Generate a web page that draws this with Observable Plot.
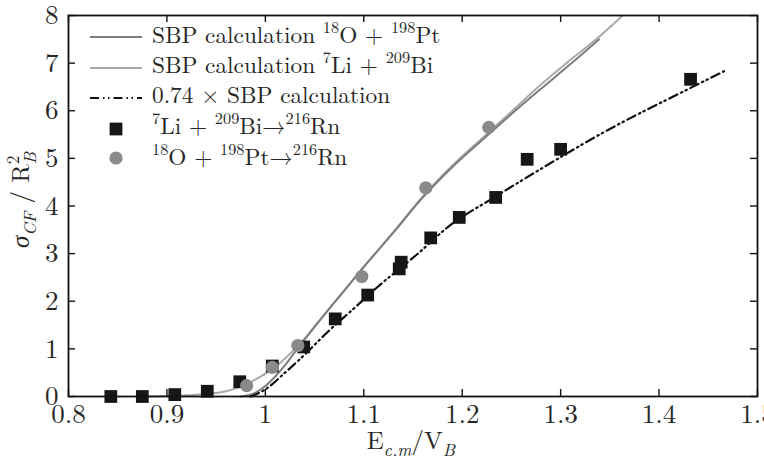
<!DOCTYPE html>
<html><head><meta charset="utf-8">
<script src="https://cdn.jsdelivr.net/npm/d3@7"></script>
<script src="https://cdn.jsdelivr.net/npm/@observablehq/plot@0.6"></script>
<style>body{margin:0;background:#fff} svg{display:block}</style>
</head><body><div id="chart"></div>
<script>
// Ticks
const xTicks = [0.8, 0.9, 1.0, 1.1, 1.2, 1.3, 1.4, 1.5];
const yTicks = [0, 1, 2, 3, 4, 5, 6, 7, 8];

// Data points: 7Li + 209Bi -> 216Rn (squares)
const liDataX = [0.843, 0.875, 0.908, 0.941, 0.974, 1.007, 1.039, 1.071, 1.104, 1.136, 1.138, 1.168, 1.197, 1.234, 1.266, 1.300, 1.432];
const liDataY = [0.0, 0.0, 0.04, 0.11, 0.31, 0.64, 1.04, 1.63, 2.13, 2.68, 2.82, 3.33, 3.76, 4.18, 4.98, 5.19, 6.66];

// Data points: 18O + 198Pt -> 216Rn (circles)
const oDataX = [0.981, 1.007, 1.033, 1.098, 1.163, 1.227];
const oDataY = [0.23, 0.61, 1.07, 2.52, 4.38, 5.65];

// SBP calculation 7Li + 209Bi (light grey)
const liCurveX = [0.88, 0.90, 0.92, 0.94, 0.96, 0.97, 0.98, 0.99, 1.00, 1.01, 1.02, 1.03, 1.04, 1.05, 1.06, 1.08, 1.10, 1.13, 1.16, 1.19, 1.22, 1.25, 1.28, 1.31, 1.34, 1.363];
const liCurveY = [0.0, 0.01, 0.025, 0.05, 0.11, 0.17, 0.25, 0.36, 0.48, 0.62, 0.8, 1.0, 1.22, 1.47, 1.72, 2.22, 2.72, 3.45, 4.2, 4.85, 5.42, 5.98, 6.55, 7.07, 7.57, 8.0];

// SBP calculation 18O + 198Pt (dark grey)
const oCurveX = [0.975, 0.99, 1.00, 1.01, 1.02, 1.03, 1.04, 1.05, 1.06, 1.08, 1.10, 1.13, 1.16, 1.19, 1.22, 1.25, 1.28, 1.31, 1.339];
const oCurveY = [0.0, 0.08, 0.22, 0.42, 0.66, 0.93, 1.2, 1.46, 1.72, 2.22, 2.72, 3.44, 4.18, 4.82, 5.38, 5.93, 6.46, 6.98, 7.5];

// 0.74 x SBP calculation (dash-dot)
const scaledX = [0.985, 1.0, 1.02, 1.04, 1.063, 1.09, 1.114, 1.155, 1.185, 1.234, 1.28, 1.32, 1.344, 1.374, 1.40, 1.432, 1.466];
const scaledY = [0.0, 0.15, 0.5, 0.88, 1.35, 1.85, 2.3, 3.0, 3.55, 4.2, 4.78, 5.27, 5.55, 5.88, 6.15, 6.48, 6.83];

const zip = (xs, ys) => xs.map((x, i) => ({x, y: ys[i]}));
const liData = zip(liDataX, liDataY);
const oData = zip(oDataX, oDataY);
const liCurve = zip(liCurveX, liCurveY);
const oCurve = zip(oCurveX, oCurveY);
const scaled = zip(scaledX, scaledY);

const W = 764, H = 462, mL = 68, mR = 7, mT = 15, mB = 66;
const fw = W - mL - mR, fh = H - mT - mB, tl = 7;
const FONT = "'Latin Modern Roman', 'Liberation Serif', serif";
const INK = "#262626";
const LIGHT = "#a9a9a9", DARK = "#7c7c7c", DOTC = "#8a8a8a", SQC = "#161616";
const DASH = "9,4,1.5,3.5,1.5,4";

const plot = Plot.plot({
  width: W, height: H,
  marginLeft: mL, marginRight: mR, marginTop: mT, marginBottom: mB,
  style: {fontFamily: FONT, fontSize: "27px", color: INK, background: "#fff", overflow: "visible"},
  x: {domain: [0.8, 1.5], label: null},
  y: {domain: [0, 8], label: null},
  marks: [
    Plot.line(liCurve, {x: "x", y: "y", stroke: LIGHT, strokeWidth: 2, curve: "monotone-x"}),
    Plot.line(oCurve, {x: "x", y: "y", stroke: DARK, strokeWidth: 2, curve: "monotone-x"}),
    Plot.line(scaled, {x: "x", y: "y", stroke: "#111", strokeWidth: 2.2, strokeDasharray: DASH, curve: "monotone-x"}),
    Plot.dot(liData, {x: "x", y: "y", symbol: "square", r: 7.2, fill: SQC, stroke: "none"}),
    Plot.dot(oData, {x: "x", y: "y", r: 6.6, fill: DOTC, stroke: "none"}),
    Plot.tickX(xTicks, {x: d => d, insetTop: fh - tl, stroke: "#111", strokeWidth: 1.4}),
    Plot.tickX(xTicks, {x: d => d, insetBottom: fh - tl, stroke: "#111", strokeWidth: 1.4}),
    Plot.tickY(yTicks, {y: d => d, insetRight: fw - tl, stroke: "#111", strokeWidth: 1.4}),
    Plot.tickY(yTicks, {y: d => d, insetLeft: fw - tl, stroke: "#111", strokeWidth: 1.4}),
    Plot.frame({stroke: "#111", strokeWidth: 1.8}),
    Plot.axisX(xTicks, {tickSize: 0, tickPadding: 7, tickFormat: d => String(+d.toFixed(1)), fill: INK}),
    Plot.axisY(yTicks, {tickSize: 0, tickPadding: 10, tickFormat: d => String(d), fill: INK})
  ]
});
document.getElementById("chart").appendChild(plot);

const svg = d3.select(plot);

// parts: string or [text, kind, options]; kind: "sup" | "sub" | null
function rich(textSel, parts, size) {
  let shift = 0;
  parts.forEach(p => {
    const [s, k, o] = Array.isArray(p) ? p : [p, null, {}];
    const opt = o || {};
    const target = k === "sup" ? -0.42 * size : k === "sub" ? 0.28 * size : 0;
    const t = textSel.append("tspan").attr("dy", target - shift).text(s);
    if (k) t.attr("font-size", size * 0.7);
    if (opt.italic) t.attr("font-style", "italic");
    if (opt.dx) t.attr("dx", opt.dx);
    shift = target;
  });
}

// Legend
const LS = 23.3;
const legendRows = [
  {base: 43, mid: 37, kind: "line", color: DARK, parts: ["SBP calculation ", ["18", "sup"], "O + ", ["198", "sup"], "Pt"]},
  {base: 73, mid: 68, kind: "line", color: LIGHT, parts: ["SBP calculation ", ["7", "sup"], "Li + ", ["209", "sup"], "Bi"]},
  {base: 103, mid: 98, kind: "dash", color: "#111", parts: ["0.74 \u00d7 SBP calculation"]},
  {base: 134, mid: 129, kind: "square", color: SQC, parts: [["7", "sup"], "Li + ", ["209", "sup"], "Bi\u2192", ["216", "sup"], "Rn"]},
  {base: 165, mid: 158, kind: "circle", color: DOTC, parts: [["18", "sup"], "O + ", ["198", "sup"], "Pt\u2192", ["216", "sup"], "Rn"]}
];
const lg = svg.append("g").attr("font-family", FONT).attr("font-size", LS).attr("fill", INK).attr("text-anchor", "start");
legendRows.forEach(r => {
  if (r.kind === "line" || r.kind === "dash") {
    lg.append("line").attr("x1", 90).attr("x2", 142).attr("y1", r.mid).attr("y2", r.mid)
      .attr("stroke", r.color).attr("stroke-width", r.kind === "dash" ? 2.2 : 2)
      .attr("stroke-dasharray", r.kind === "dash" ? DASH : null);
  } else if (r.kind === "square") {
    lg.append("rect").attr("x", 116 - 6.4).attr("y", r.mid - 6.4).attr("width", 12.8).attr("height", 12.8).attr("fill", r.color);
  } else {
    lg.append("circle").attr("cx", 116).attr("cy", r.mid).attr("r", 6.6).attr("fill", r.color);
  }
  const t = lg.append("text").attr("x", 152).attr("y", r.base);
  rich(t, r.parts, LS);
});

// Axis titles
const TS = 25;
const xt = svg.append("text").attr("font-family", FONT).attr("font-size", TS).attr("fill", INK)
  .attr("text-anchor", "middle").attr("x", 411).attr("y", 449);
rich(xt, ["E", ["c.m", "sub", {italic: true}], "/V", ["B", "sub", {italic: true}]], TS);

const yt = svg.append("text").attr("font-family", FONT).attr("font-size", TS).attr("fill", INK)
  .attr("text-anchor", "middle").attr("transform", "translate(29,200) rotate(-90)");
rich(yt, [["\u03c3", null, {italic: true}], ["CF", "sub", {italic: true}], " / R", ["2", "sup"], ["B", "sub", {italic: true, dx: -0.35 * TS}]], TS);
</script>
</body></html>
